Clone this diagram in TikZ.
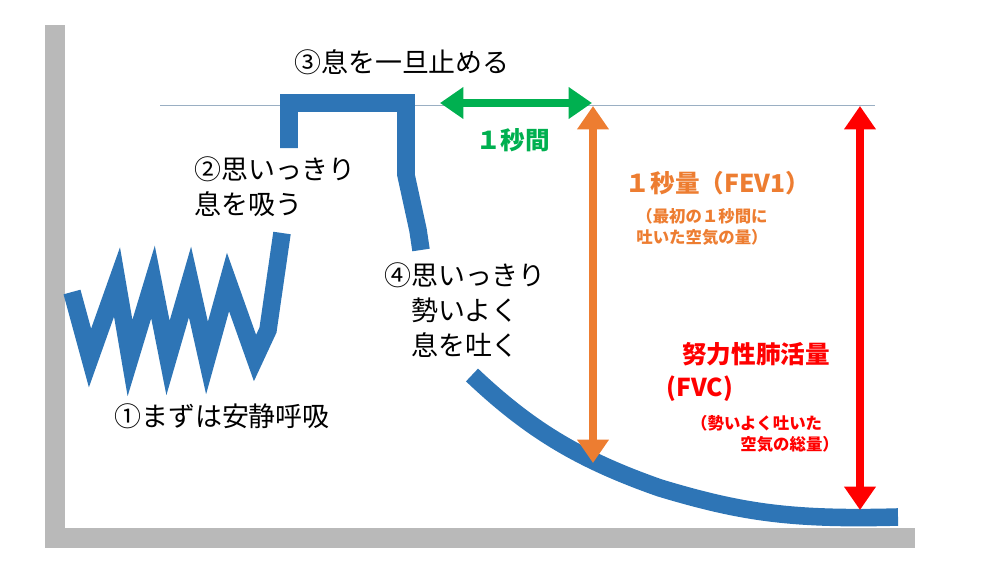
\documentclass[tikz,border=0pt]{standalone}
\usepackage{fontspec}
\setmainfont{Noto Sans CJK JP}
\usetikzlibrary{arrows.meta}
\definecolor{curveblue}{RGB}{46,117,182}
\definecolor{fevorange}{RGB}{237,125,49}
\definecolor{secgreen}{RGB}{0,176,80}
\tikzset{
  label/.style = {font=\fontsize{23}{30}\selectfont, align=center},
  bigbold/.style = {font=\fontsize{21}{26}\selectfont\bfseries, align=center},
  smallnote/.style = {font=\fontsize{14}{18}\selectfont\bfseries, align=center},
  measure/.style = {line width=6pt, {Triangle[length=20pt,width=26pt]}-{Triangle[length=20pt,width=26pt]}}
}
\begin{document}
\begin{tikzpicture}[x=0.03cm, y=-0.03cm]
        \useasboundingbox (0,0) rectangle (1000,563);
        % axes
        \fill[gray!55] (45,25) rectangle (65,548);
        \fill[gray!55] (45,528) rectangle (915,548);
        \draw[curveblue!50!gray!60, line width=0.6pt] (160,105) -- (875,105);
        % breathing curve
        \begin{scope}[draw = curveblue, line width = 15pt]
            \draw[line join=miter, miter limit=25] (72,292) -- (90,358) -- (117,282) -- (130,358) -- (153,282) -- (168,358) -- (190,282) -- (207,358) -- (228,282) -- (255,358) -- (268,330) -- (282,233);
            \draw[line join=miter] (289,148) -- (289,103) -- (406,103) -- (406,175) -- (418,230) -- (421,250);
            \draw[line cap=butt] (472,375) .. controls (530,430) and (580,460) .. (660,488) .. controls (740,512) and (790,520) .. (898,517);
        \end{scope}
        % measures
        \coordinate (g1) at (440,103);
        \coordinate (g2) at (592,103);
        \coordinate (o1) at (593,106);
        \coordinate (o2) at (593,463);
        \coordinate (r1) at (860,106);
        \coordinate (r2) at (860,510);
        \draw[measure, secgreen] (g1) -- (g2);
        \draw[measure, fevorange] (o1) -- (o2);
        \draw[measure, red] (r1) -- (r2);
        % texts
        \node[label] (hold) at (402,62) {③息を一旦止める};
        \node[label, align=left] (inhale) at (275,187) {②思いっきり\\息を吸う};
        \node[label] (exhale) at (465,310) {④思いっきり\\勢いよく\\息を吐く};
        \node[label] (rest) at (222,416) {①まずは安静呼吸};
        \node[bigbold, secgreen] (sec) at (513,140) {１秒間};
        \node[bigbold, fevorange] (fev) at (718,183) {１秒量（FEV1）};
        \node[smallnote, fevorange] (fevnote) at (702,227) {（最初の１秒間に\\吐いた空気の量）};
        \node[bigbold, red] (fvc) at (756,354) {努力性肺活量};
        \node[bigbold, red] (fvcabbr) at (700,389) {(FVC)};
        \node[smallnote, red, align=left] (fvcnote) at (765,434) {（勢いよく吐いた\\\hspace{3em}空気の総量）};
    \end{tikzpicture}
\end{document}
